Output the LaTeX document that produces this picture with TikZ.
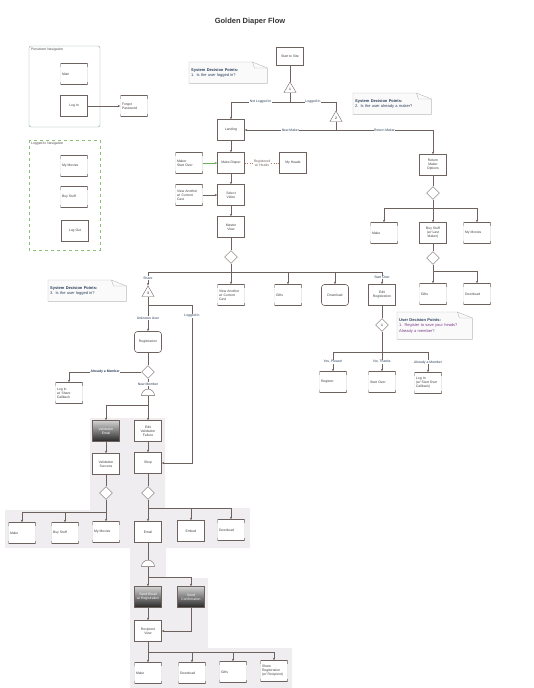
\documentclass[tikz,border=0pt]{standalone}
\usepackage{fontspec}
\setmainfont{Liberation Sans}
\usetikzlibrary{arrows.meta, positioning, shapes.geometric, calc, backgrounds}
\definecolor{inkline}{HTML}{6E625E}
\definecolor{navy}{HTML}{2B3E5C}
\definecolor{framegreen}{HTML}{8DBF7A}
\definecolor{frameteal}{HTML}{7FA3A8}
\definecolor{greyfill}{HTML}{EFEDF0}
\definecolor{plum}{HTML}{7E3B8A}
\definecolor{leafgreen}{HTML}{6BAF5C}
\definecolor{rust}{HTML}{C0785A}
\tikzset{
  tx/.style={font=\fontsize{3.4}{4.1}\selectfont},
  block/.style={rectangle, draw=inkline, line width=0.4pt, fill=white, text=black!75,
    minimum width=27pt, minimum height=21pt, align=center, inner sep=1pt, tx},
  blockSoft/.style={block, draw=none, align=left, text width=24pt,
    path picture={
      \draw[gray!25, line width=0.8pt] (path picture bounding box.north west) rectangle (path picture bounding box.south east);
      \draw[inkline, line width=0.8pt]
        ([yshift=-3pt]path picture bounding box.north west) -- (path picture bounding box.north west)
        -- (path picture bounding box.north east) -- ([yshift=-3pt]path picture bounding box.north east)
        ([yshift=3pt]path picture bounding box.south west) -- (path picture bounding box.south west)
        -- (path picture bounding box.south east) -- ([yshift=3pt]path picture bounding box.south east);
    }},
  blockRound/.style={block, rounded corners=3pt, line width=0.6pt},
  blockDark/.style={block, top color=gray!35, bottom color=black!85, text=white},
  decision/.style={diamond, draw=inkline, fill=white, minimum size=13pt, inner sep=0pt, tx},
  gate/.style={regular polygon, regular polygon sides=3, draw=inkline, fill=white,
    minimum size=14pt, inner sep=0pt, tx},
  merge/.style={semicircle, draw=inkline, fill=white, minimum width=13pt, inner sep=0pt},
  line/.style={inkline, line width=0.4pt},
  arrow/.style={line, -{Stealth[length=2.6pt, width=2.2pt]}},
  linelabel/.style={tx, fill=white, inner sep=0.5pt, text=navy, align=center},
  note/.style={align=left, text=navy, inner sep=2pt, anchor=north west,
    font=\fontsize{4}{5.4}\selectfont, text width=74pt, minimum height=21pt},
  notefr/.style={draw=gray!55, fill=gray!4, line width=0.4pt},
  navframe/.style={draw=frameteal, rounded corners=2pt, line width=0.4pt},
}
\newcommand{\foldnote}[1]{%
  \begin{scope}[on background layer]
    \draw[notefr] (#1.south west) -- (#1.north west) -- ([xshift=-15pt]#1.north east)
      -- ([yshift=-6pt]#1.north east) -- (#1.south east) -- cycle;
    \draw[notefr, fill=none] ([xshift=-15pt]#1.north east) -- ([xshift=-13pt,yshift=-6pt]#1.north east)
      -- ([yshift=-6pt]#1.north east);
  \end{scope}}

\begin{document}
\begin{tikzpicture}[x=1pt, y=-1pt]
\useasboundingbox (0,0) rectangle (533,688);
% highlighted path
\fill[greyfill] (90,418) -- (165,418) -- (165,508) -- (250,508) -- (250,548)
  -- (166,548) -- (166,578) -- (208,578) -- (208,648) -- (292,648) -- (292,688)
  -- (130,688) -- (130,548) -- (5,548) -- (5,510) -- (90,510) -- cycle;

\node[font=\bfseries\fontsize{7.5}{9}\selectfont, text=black!80] (title) at (250,22) {Golden Diaper Flow};

% navigation panels
\draw[navframe] (29,46) rectangle (100,127);
\node[tx, anchor=north west, inner sep=1pt, text=black!70] (navA) at (30,47) {Persistent Navigation};
\node[blockSoft] (main) at (74,74) {Main};
\node[block] (login) at (74,106) {Log In};
\node[blockSoft] (forgot) at (134,106) {Forgot\\Password};
\draw[arrow] (login) -- (forgot);

\draw[navframe, draw=framegreen, dashed, rounded corners=0pt] (29,140) rectangle (100,250);
\node[tx, anchor=north west, inner sep=1pt, text=black!70] (navB) at (30,141) {Logged In Navigation};
\node[blockSoft] (navmovies) at (74,166) {My Movies};
\node[blockSoft] (navbuy) at (74,197) {Buy Stuff};
\node[block] (logout) at (75,231) {Log Out};

% decision notes
\node[note] (note1) at (189,62) {\textbf{System Decision Points:}\\1. Is the user logged in?};
\foldnote{note1}
\node[note] (note2) at (353,93) {\textbf{System Decision Points:}\\2. Is the user already a maker?};
\foldnote{note2}
\node[note] (note3) at (48,280) {\textbf{System Decision Points:}\\3. Is the user logged in?};
\foldnote{note3}
\node[note, minimum height=27pt, text width=71pt] (note4) at (397,312)
  {\textbf{User Decision Points:}\\\textcolor{plum}{1. Register to save your heads?}\\\textcolor{plum}{Already a member?}};
\foldnote{note4}

% entry
\node[block, minimum height=18pt] (start) at (290,56) {Start to Site};
\node[gate] (g1) at (290,89) {1};
\coordinate (j1) at (290,102);
\node[block] (landing) at (231,130) {Landing};
\node[gate] (g2) at (336,118) {2};
\coordinate (j2) at (336,130);
\node[block] (ret) at (433,165) {Return\\Maker\\Options};
\draw[line] (start) -- (g1);
\draw[line] (g1) -- (j1);
\draw[arrow] (j1) -- node[linelabel]{Not Logged In} (j1 -| landing) -- (landing);
\draw[line] (j1) -- node[linelabel]{Logged In} (j1 -| g2) -- (g2);
\draw[arrow] (g2) -- (j2) -- node[linelabel]{New Maker} (landing);
\draw[arrow] (j2) -- node[linelabel]{Return Maker} (j2 -| ret) -- (ret);

% return maker
\node[decision] (d2) at (433,193) {};
\coordinate (j3) at (433,208);
\node[blockSoft] (rmake) at (384,233) {Make};
\node[block] (rbuy) at (433,233) {Buy Stuff\\(w/ Last\\Maker)};
\node[blockSoft] (rmovies) at (477,233) {My Movies};
\draw[line] (ret) -- (d2);
\draw[arrow] (d2) -- (rbuy);
\draw[arrow] (j3) -| (rmake);
\draw[arrow] (j3) -| (rmovies);
\node[decision] (d3) at (433,258) {};
\coordinate (j4) at (433,271);
\node[blockSoft] (rgifts) at (433,294) {Gifts};
\node[blockSoft] (rdown) at (477,294) {Download};
\draw[line] (rbuy) -- (d3);
\draw[arrow] (d3) -- (rgifts);
\draw[arrow] (j4) -| (rdown);

% new maker
\node[block] (makediaper) at (231,163) {Make Diaper};
\node[blockSoft] (startover) at (189,163) {Maker\\Start Over};
\node[block] (myheads) at (293,163) {My Heads};
\draw[arrow] (landing) -- (makediaper);
\draw[arrow, leafgreen] (startover) -- (makediaper);
\draw[line, rust, dotted] (makediaper) -- node[linelabel, text=inkline]{Registered\\w/ Heads} (myheads);
\node[block] (select) at (231,195) {Select\\Video};
\node[blockSoft] (another) at (189,195) {View Another\\w/ Current\\Cast};
\draw[arrow] (makediaper) -- (select);
\draw[arrow] (another) -- (select);
\node[block] (master) at (231,227) {Master\\View};
\draw[arrow] (select) -- (master);
\node[decision] (d1) at (231,257) {};
\coordinate (j5) at (231,272);
\draw[line] (master) -- (d1);
\draw[line] (d1) -- (j5);
\node[gate] (g3) at (148,293) {3};
\node[blockSoft] (another2) at (231,295) {View Another\\w/ Current\\Cast};
\node[blockSoft] (gifts) at (288,295) {Gifts};
\node[blockRound] (download) at (335,295) {Download};
\node[block] (editreg) at (382,295) {Edit\\Registration};
\draw[arrow] (j5) -| node[linelabel, pos=0.72]{Share} (g3);
\draw[arrow] (j5) -- (another2);
\draw[arrow] (j5) -| (gifts);
\draw[arrow] (j5) -| (download);
\draw[arrow] (j5) -| node[linelabel, pos=0.72]{Start Over} (editreg);

% user decision
\node[decision] (d7) at (382,325) {1};
\coordinate (j6) at (382,352);
\node[blockSoft] (register) at (333,382) {Register};
\node[blockSoft] (startover2) at (382,382) {Start Over};
\node[blockSoft] (login3) at (428,383) {Log In\\(w/ Start Over\\Callback)};
\draw[line] (editreg) -- (d7);
\draw[line] (d7) -- (j6);
\draw[arrow] (j6) -| node[linelabel, pos=0.75]{Yes, Please!} (register);
\draw[arrow] (j6) -- node[linelabel]{No, Thanks} (startover2);
\draw[arrow] (j6) -| node[linelabel, pos=0.75]{Already a Member} (login3);

% share flow
\coordinate (j7) at (148,305);
\coordinate (j8) at (192,463);
\node[blockRound] (registration) at (148,342) {Registration};
\node[block] (shop) at (148,463) {Shop};
\draw[line] (g3) -- (j7);
\draw[arrow] (j7) -- node[linelabel]{Unknown User} (registration);
\draw[arrow] (j7) -| node[linelabel, pos=0.535]{Logged In} (j8) -- (shop);
\node[decision] (d4) at (148,372) {};
\node[blockSoft] (loginshare) at (69,393) {Log In\\w/ Share\\Callback};
\node[merge] (m1) at (148,393) {};
\draw[line] (registration) -- (d4);
\draw[arrow] (d4) -| node[linelabel, pos=0.25, font=\bfseries\fontsize{3.4}{4.1}\selectfont]{Already a Member} (loginshare);
\draw[line] (d4) -- node[linelabel]{New Member} (m1);
\coordinate (j9) at (148,405);
\node[blockDark] (valemail) at (106,431) {Validation\\Email};
\node[block] (valfail) at (148,431) {Edit\\Validation\\Failure};
\draw[line] (m1) -- (j9);
\draw[arrow] (j9) -| (valemail);
\draw[arrow] (j9) -- (valfail);
\node[block] (valok) at (106,464) {Validation\\Success};
\draw[arrow] (valemail) -- (valok);
\draw[arrow] (valfail) -- (shop);
\node[decision] (d5) at (106,493) {};
\node[decision] (d6) at (148,493) {};
\draw[line] (valok) -- (d5);
\draw[line] (shop) -- (d6);
\coordinate (j10) at (106,512);
\node[blockSoft] (lmake) at (22,533) {Make};
\node[blockSoft] (lbuy) at (65,533) {Buy Stuff};
\node[blockSoft] (lmovies) at (106,532) {My Movies};
\draw[arrow] (d5) -- (lmovies);
\draw[arrow] (j10) -| (lmake);
\draw[arrow] (j10) -| (lbuy);
\coordinate (j11) at (148,508);
\node[block] (email) at (148,532) {Email};
\node[block] (embed) at (191,531) {Embed};
\node[blockSoft] (ldown) at (231,530) {Download};
\draw[arrow] (d6) -- (email);
\draw[arrow] (j11) -| (embed);
\draw[arrow] (j11) -| (ldown);
\node[merge] (m2) at (148,564) {};
\coordinate (j12) at (148,577);
\node[blockDark] (sendemail) at (148,597) {Send Email\\w/ Registration};
\node[blockDark] (sendconf) at (191,597) {Send\\Confirmation};
\draw[line] (email) -- (m2);
\draw[arrow] (m2) -- (sendemail);
\draw[arrow] (j12) -| (sendconf);
\node[block] (recipient) at (148,631) {Recipient\\View};
\coordinate (j13) at (191,631);
\draw[arrow] (sendemail) -- (recipient);
\draw[arrow] (sendconf) -- (j13) -- (recipient);
\coordinate (j14) at (148,652);
\node[blockSoft] (bmake) at (148,673) {Make};
\node[blockSoft] (bdown) at (192,673) {Download};
\node[blockSoft] (bgifts) at (233,672) {Gifts};
\node[blockSoft] (bshare) at (274,671) {Share\\Registration\\(w/ Recipient)};
\draw[arrow] (recipient) -- (bmake);
\draw[arrow] (j14) -| (bdown);
\draw[arrow] (j14) -| (bgifts);
\draw[arrow] (j14) -| (bshare);
\end{tikzpicture}
\end{document}
